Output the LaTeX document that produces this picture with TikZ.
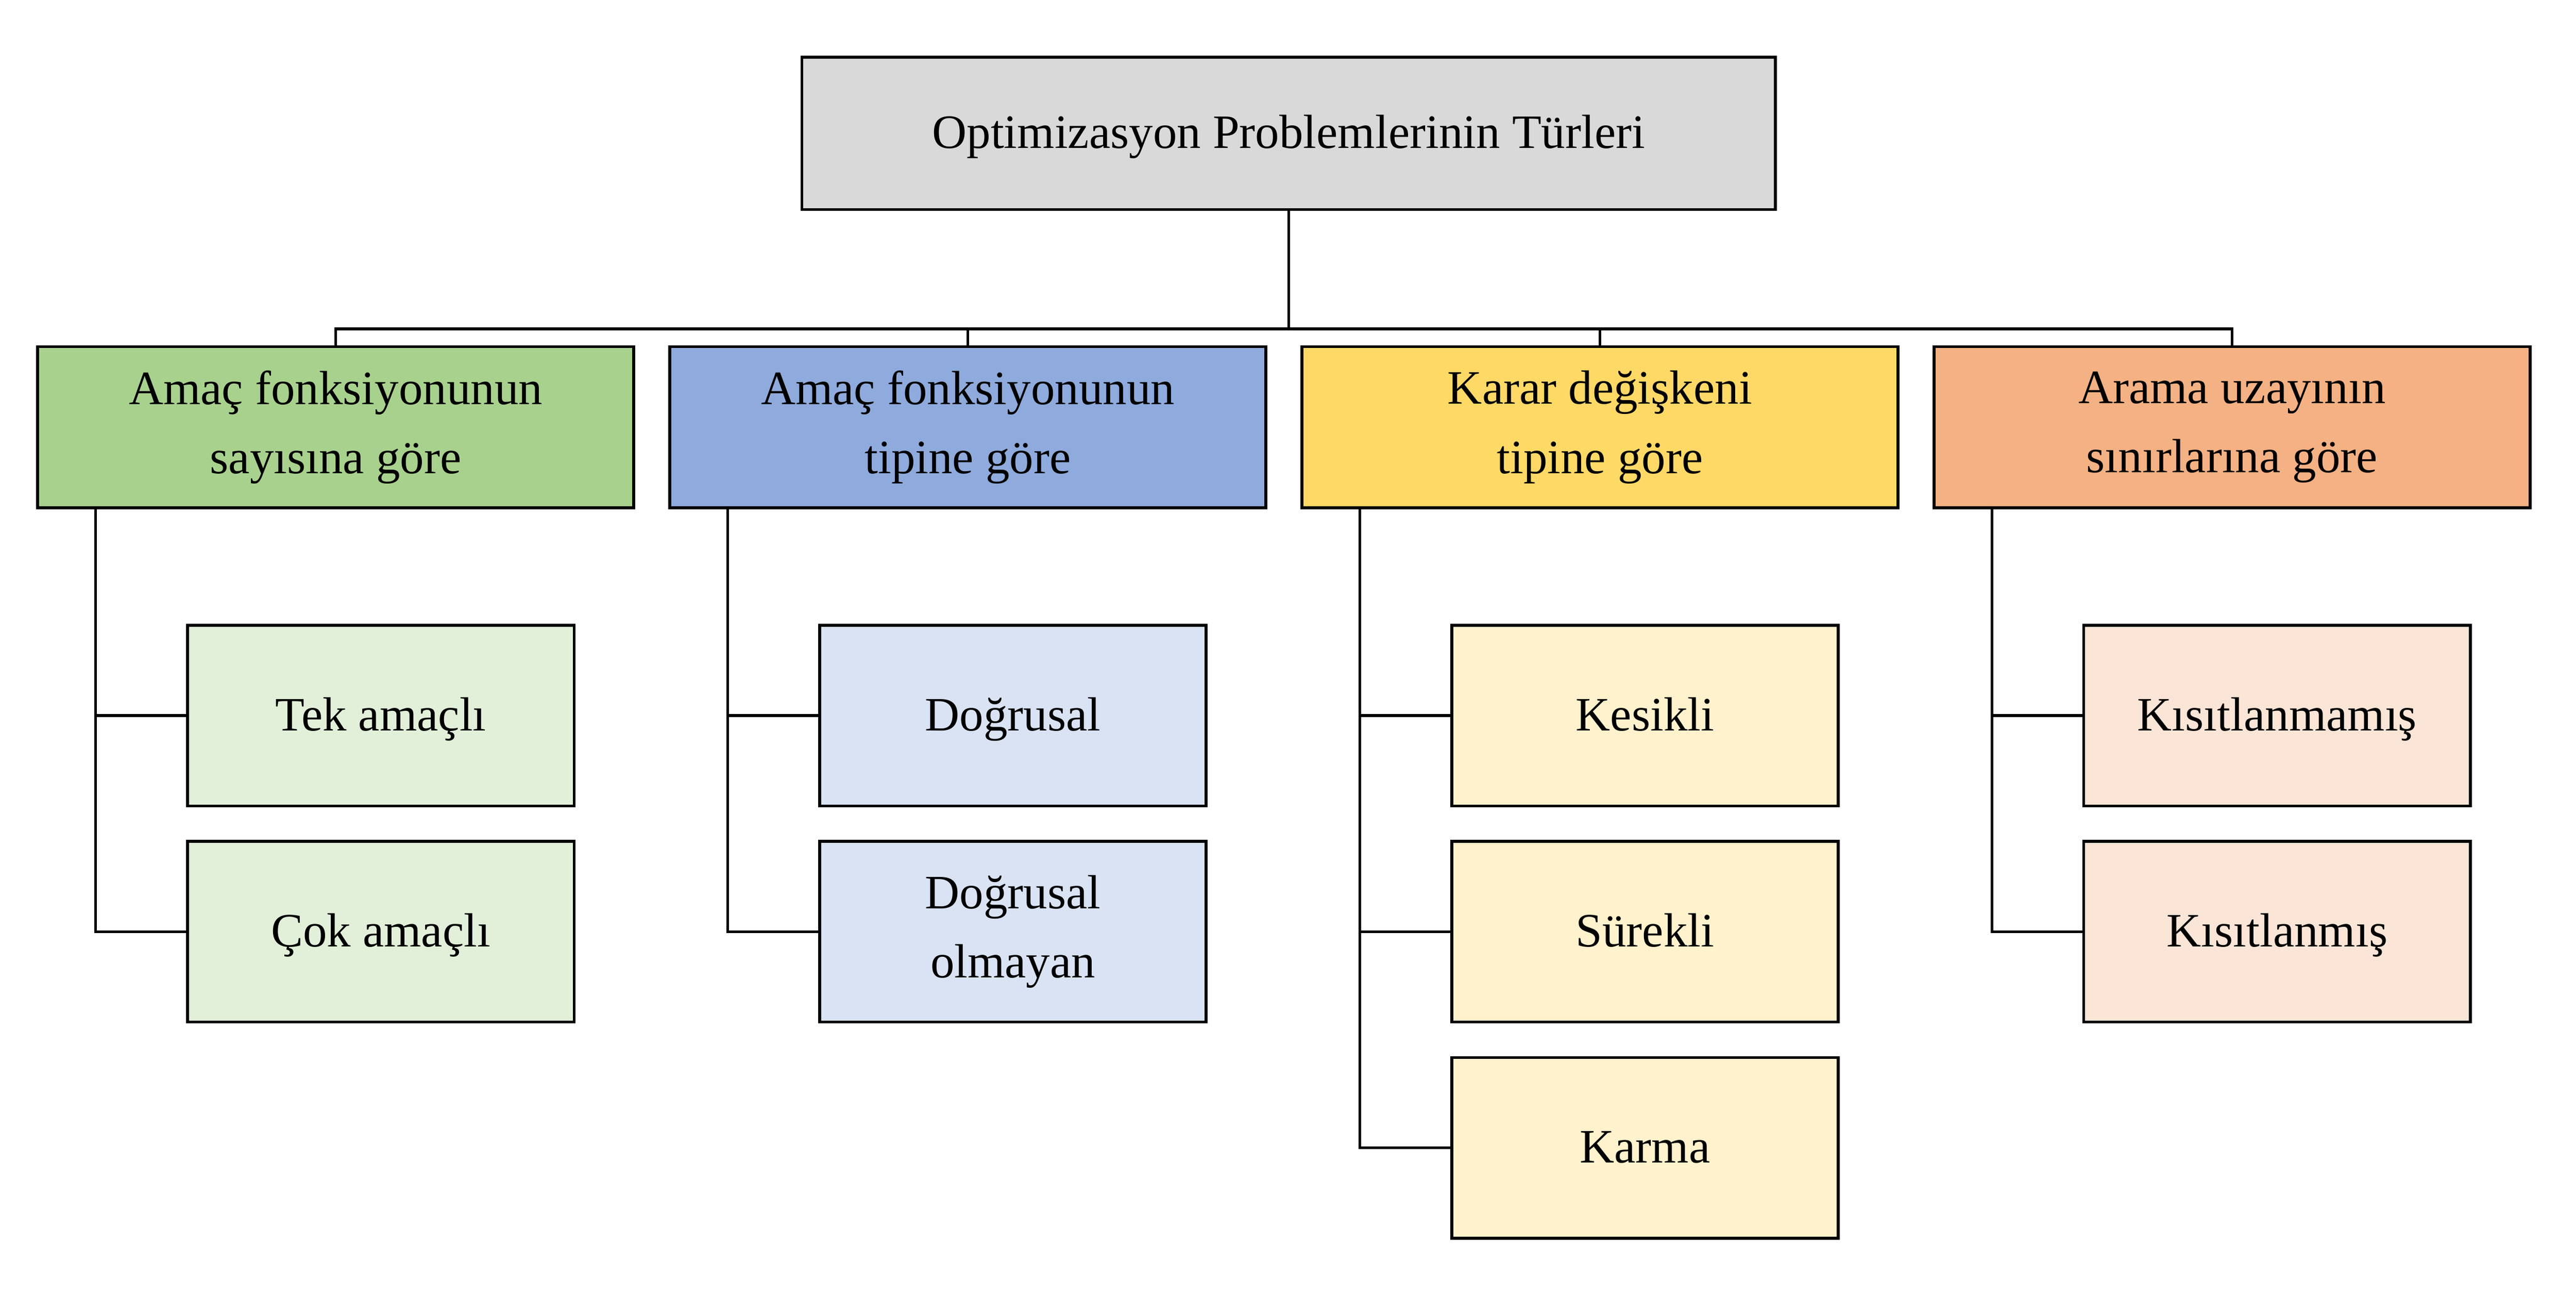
\documentclass[tikz,border=0pt]{standalone}
\usepackage{fontspec}
\setmainfont{Liberation Serif}
\usepackage{xcolor}
\usepackage{tikz}
\usetikzlibrary{positioning}
\definecolor{rootgray}{HTML}{D9D9D9}
\definecolor{greenA}{HTML}{A9D18E}
\definecolor{greenB}{HTML}{E2F0D9}
\definecolor{blueA}{HTML}{8FAADC}
\definecolor{blueB}{HTML}{DAE3F3}
\definecolor{yellowA}{HTML}{FFD966}
\definecolor{yellowB}{HTML}{FFF2CC}
\definecolor{orangeA}{HTML}{F4B183}
\definecolor{orangeB}{HTML}{FBE5D6}
\newcommand{\linestrut}{\rule[-0.22em]{0pt}{1.07em}}
\tikzstyle{box} = [rectangle, draw=black, line width=0.85pt, text centered, align=center, font=\fontsize{14.5}{21}\selectfont, execute at begin node=\linestrut]
\tikzstyle{rootbox} = [box, minimum width=294.75pt, minimum height=46.1pt, fill=rootgray]
\tikzstyle{catbox} = [box, minimum width=180.5pt, minimum height=48.75pt]
\tikzstyle{leafbox} = [box, minimum width=117.05pt, minimum height=54.7pt]
\tikzstyle{link} = [line width=0.85pt]

\begin{document}
\begin{tikzpicture}[node distance=191.4pt, on grid]
        \useasboundingbox (0,0) rectangle (780pt,-397.25pt);
        \node (root) [rootbox] at (390.2pt,-40.33pt) {Optimizasyon Problemlerinin Türleri};
        \node (sayi) [catbox, fill=greenA] at (101.65pt,-129.3pt) {Amaç fonksiyonunun\\sayısına göre};
        \node (tip) [catbox, fill=blueA, right of=sayi] {Amaç fonksiyonunun\\tipine göre};
        \node (karar) [catbox, fill=yellowA, right of=tip] {Karar değişkeni\\tipine göre};
        \node (arama) [catbox, fill=orangeA, right of=karar] {Arama uzayının\\sınırlarına göre};
        \node (tek) [leafbox, fill=greenB, below right=87.25pt and 13.65pt of sayi] {Tek amaçlı};
        \node (cok) [leafbox, fill=greenB, below=65.4pt of tek] {Çok amaçlı};
        \node (dog) [leafbox, fill=blueB, below right=87.25pt and 13.65pt of tip] {Doğrusal};
        \node (dogol) [leafbox, fill=blueB, below=65.4pt of dog] {Doğrusal\\olmayan};
        \node (kes) [leafbox, fill=yellowB, below right=87.25pt and 13.65pt of karar] {Kesikli};
        \node (sur) [leafbox, fill=yellowB, below=65.4pt of kes] {Sürekli};
        \node (karma) [leafbox, fill=yellowB, below=65.4pt of sur] {Karma};
        \node (kisiz) [leafbox, fill=orangeB, below right=87.25pt and 13.65pt of arama] {Kısıtlanmamış};
        \node (kisli) [leafbox, fill=orangeB, below=65.4pt of kisiz] {Kısıtlanmış};
        \coordinate (bus) at (0,-99.5pt);
        \foreach \n in {sayi,tip,karar,arama}
            \draw [link] (root.south) -- (root.south |- bus) -| (\n.north);
        \draw [link] ([xshift=18pt]sayi.south west) |- (tek.west);
        \draw [link] ([xshift=18pt]sayi.south west) |- (cok.west);
        \draw [link] ([xshift=18pt]tip.south west) |- (dog.west);
        \draw [link] ([xshift=18pt]tip.south west) |- (dogol.west);
        \draw [link] ([xshift=18pt]karar.south west) |- (kes.west);
        \draw [link] ([xshift=18pt]karar.south west) |- (sur.west);
        \draw [link] ([xshift=18pt]karar.south west) |- (karma.west);
        \draw [link] ([xshift=18pt]arama.south west) |- (kisiz.west);
        \draw [link] ([xshift=18pt]arama.south west) |- (kisli.west);
    \end{tikzpicture}
\end{document}
